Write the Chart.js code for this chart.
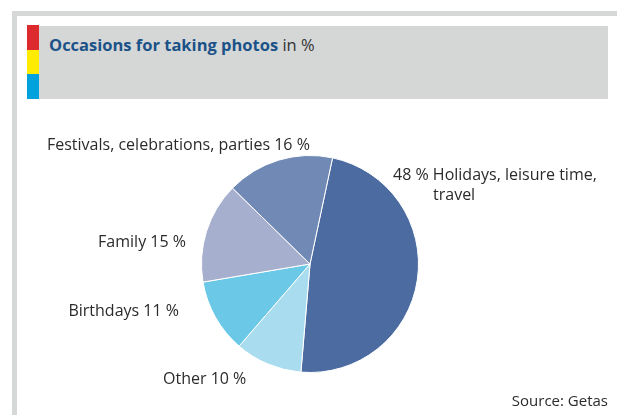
<!DOCTYPE html>
<html>
<head>
<meta charset="utf-8">
<script src="https://cdn.jsdelivr.net/npm/chart.js@4"></script>
<style>
  html, body { margin: 0; padding: 0; background: #fff; }
  #wrap { position: relative; width: 617px; height: 415px; overflow: hidden; }
  .frameTop { position: absolute; left: 12px; top: 11px; width: 605px; height: 5px; background: #d6d7d7; }
  .frameLeft { position: absolute; left: 12px; top: 11px; width: 5px; height: 404px; background: #d6d7d7; }
  .titleBox { position: absolute; left: 39px; top: 26px; width: 569px; height: 73px; background: #d5d7d7; }
  .stripe { position: absolute; left: 27px; width: 12px; }
  .title { position: absolute; left: 49px; top: 33px; font-family: "Open Sans", sans-serif; font-size: 16.5px; color: #333; white-space: nowrap; }
  .title b { color: #1b5287; font-weight: 700; }
  canvas { position: absolute; left: 0; top: 0; }
</style>
</head>
<body>
<div id="wrap">
  <div class="frameTop"></div>
  <div class="frameLeft"></div>
  <div class="titleBox"></div>
  <div class="stripe" style="top:25px;height:25px;background:#dc2a2f"></div>
  <div class="stripe" style="top:50px;height:24px;background:#ffec00"></div>
  <div class="stripe" style="top:74px;height:25px;background:#00a2de"></div>
  <div class="title"><b>Occasions for taking photos</b> in %</div>
  <canvas id="c" width="617" height="415"></canvas>
</div>
<script>
const categories = ["Holidays, leisure time, travel", "Other", "Birthdays", "Family", "Festivals, celebrations, parties"];
const values = [48, 10, 11, 15, 16];
const labelLines = [
  ["48 % Holidays, leisure time,", "travel"],
  ["Other 10 %"],
  ["Birthdays 11 %"],
  ["Family 15 %"],
  ["Festivals, celebrations, parties 16 %"]
];
const sourceText = "Source: Getas";
const colors = ["#4b6ba1", "#a9dcee", "#6bc8e7", "#a6afcd", "#7189b5"];

// label anchor positions (text placement, not marks)
const labelPos = [
  {x: 393, y: 175, align: "left", lines: [{dx: 0, dy: 0}, {dx: 40, dy: 20}]},
  {x: 163, y: 379, align: "left"},
  {x: 179, y: 311, align: "right"},
  {x: 186, y: 242, align: "right"},
  {x: 47, y: 145, align: "left"}
];

const labelPlugin = {
  id: "labels",
  afterDraw(chart) {
    const ctx = chart.ctx;
    ctx.save();
    ctx.font = '16px "Open Sans", sans-serif';
    ctx.fillStyle = "#2b2b2b";
    ctx.textBaseline = "middle";
    labelLines.forEach((lines, i) => {
      const p = labelPos[i];
      ctx.textAlign = p.align;
      lines.forEach((t, j) => {
        const off = p.lines ? p.lines[j] : {dx: 0, dy: j * 20};
        ctx.fillText(t, p.x + off.dx, p.y + off.dy);
      });
    });
    ctx.textAlign = "right";
    ctx.font = '15px "Open Sans", sans-serif';
    ctx.fillText(sourceText, 608, 402);
    ctx.restore();
  }
};

new Chart(document.getElementById("c"), {
  type: "pie",
  data: {
    labels: categories,
    datasets: [{
      data: values,
      backgroundColor: colors,
      borderColor: "#ffffff",
      borderWidth: 1
    }]
  },
  options: {
    responsive: false,
    animation: false,
    rotation: 12,
    layout: { padding: { left: 201, right: 198, top: 155, bottom: 42 } },
    plugins: { legend: { display: false }, tooltip: { enabled: false }, title: { display: false } }
  },
  plugins: [labelPlugin]
});
</script>
</body>
</html>
